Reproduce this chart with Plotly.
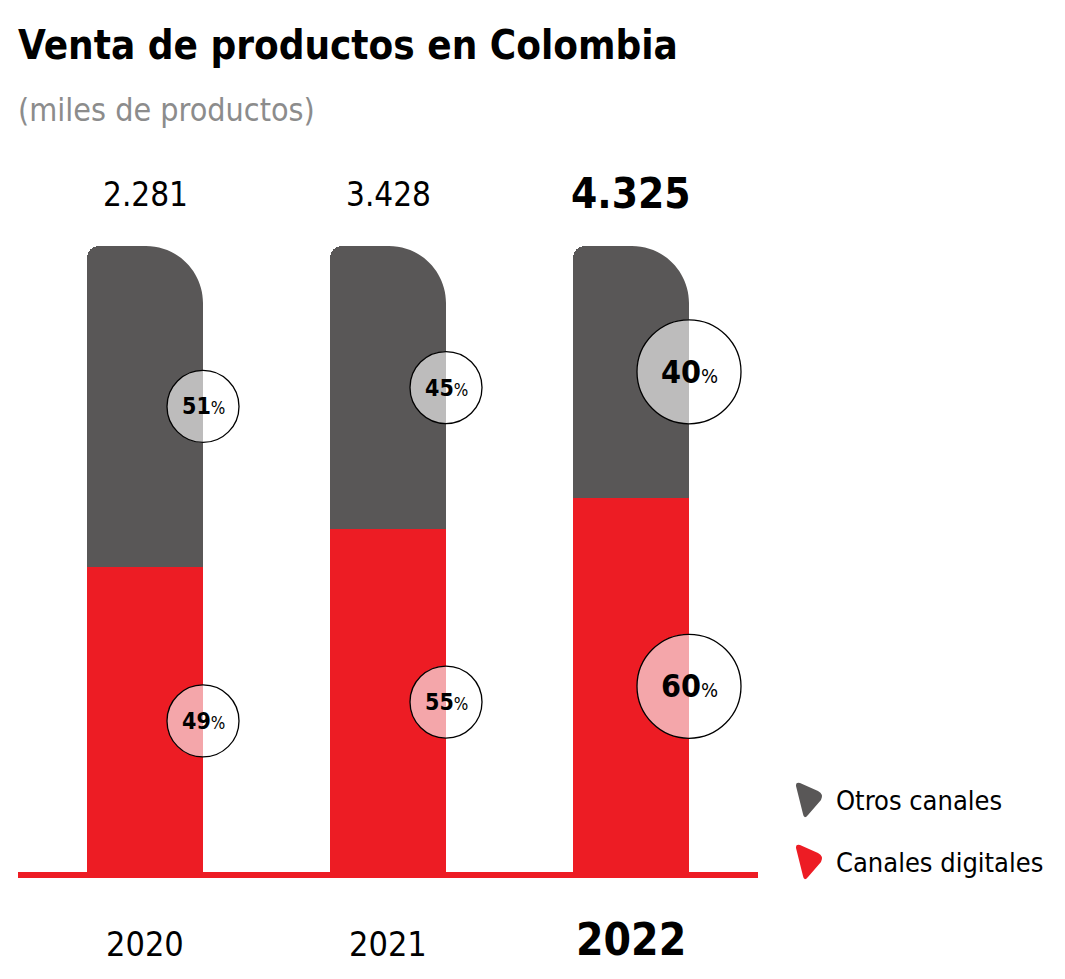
import plotly.graph_objects as go

# ---------------- data ----------------
years = ["2020", "2021", "2022"]
totals = ["2.281", "3.428", "4.325"]
pct_digital = [49, 55, 60]
pct_otros = [51, 45, 40]
series_names = ["Otros canales", "Canales digitales"]
title = "Venta de productos en Colombia"
subtitle = "(miles de productos)"

# ---------------- style ----------------
OFF = 8                      # page body margin
W, H = 1065 - 2 * OFF, 979 - 2 * OFF
FONT = ("Liberation Sans Narrow, DejaVu Sans Condensed, sans-serif")
RED = "#ed1c24"
DARK = "#595757"
LIGHT = "#bdbcbc"
PINK = "#f4a6aa"
emph = [False, False, True]
circle_r = [36, 36, 52]

BAR_W = 0.4774
PX_X = 243.0      # pixels per x unit
PX_Y = 6.29       # pixels per y unit (percent)
X0PX = 145.0 - OFF
Y0PX = 875.0 - OFF
xr = [-X0PX / PX_X, (W - X0PX) / PX_X]
yr = [-(H - Y0PX) / PX_Y, Y0PX / PX_Y]


def py(p):
    return 1 - (p - OFF) / H


def pxx(p):
    return (p - OFF) / W


x = list(range(len(years)))

fig = go.Figure()
fig.add_bar(x=x, y=pct_digital, width=BAR_W, name=series_names[1],
            marker=dict(color=RED, line=dict(width=0)), showlegend=False,
            hoverinfo="skip")
fig.add_bar(x=x, y=pct_otros, width=BAR_W, name=series_names[0],
            marker=dict(color=DARK, line=dict(width=0), cornerradius=12),
            showlegend=False, hoverinfo="skip")

shapes = []
K = 0.5523
R = 57
for i in x:
    top = pct_digital[i] + pct_otros[i]
    path = (f"M {-R},2 L 2,2 L 2,{-R} L 0,{-R} "
            f"C 0,{-R + K*R:.2f} {-R + K*R:.2f},0 {-R},0 Z")
    shapes.append(dict(type="path", xref="x", yref="y", xsizemode="pixel",
                       ysizemode="pixel", xanchor=i + BAR_W / 2, yanchor=top,
                       path=path, fillcolor="white", line=dict(width=0),
                       layer="above"))

annotations = []
for i in x:
    r = circle_r[i]
    cx = i + BAR_W / 2
    segs = [(pct_digital[i] / 2, pct_digital[i], PINK),
            (pct_digital[i] + pct_otros[i] / 2, pct_otros[i], LIGHT)]
    for cy, val, col in segs:
        shapes.append(dict(type="circle", xref="x", yref="y", xsizemode="pixel",
                           ysizemode="pixel", xanchor=cx, yanchor=cy,
                           x0=-r, x1=r, y0=-r, y1=r, fillcolor="white",
                           line=dict(width=0), layer="above"))
        half = (f"M 0,{r} C {-K*r:.2f},{r} {-r},{K*r:.2f} {-r},0 "
                f"C {-r},{-K*r:.2f} {-K*r:.2f},{-r} 0,{-r} Z")
        shapes.append(dict(type="path", xref="x", yref="y", xsizemode="pixel",
                           ysizemode="pixel", xanchor=cx, yanchor=cy,
                           path=half, fillcolor=col, line=dict(width=0),
                           layer="above"))
        shapes.append(dict(type="circle", xref="x", yref="y", xsizemode="pixel",
                           ysizemode="pixel", xanchor=cx, yanchor=cy,
                           x0=-r, x1=r, y0=-r, y1=r, fillcolor="rgba(0,0,0,0)",
                           line=dict(width=1.3, color="black"), layer="above"))
        big = 32 if emph[i] else 23
        small = 20 if emph[i] else 17
        annotations.append(dict(
            x=cx, y=cy, xref="x", yref="y", showarrow=False,
            text=f"<b>{val}</b><span style='font-size:{small}px'>%</span>",
            font=dict(family=FONT, size=big, color="black"),
            xanchor="center", yanchor="middle"))
    # totals
    annotations.append(dict(
        x=i, y=py(193 if emph[i] else 195), xref="x", yref="paper",
        showarrow=False,
        text=f"<b>{totals[i]}</b>" if emph[i] else totals[i],
        font=dict(family=FONT, size=42 if emph[i] else 33, color="black"),
        xanchor="center", yanchor="middle"))
    # years
    annotations.append(dict(
        x=i, y=py(939 if emph[i] else 944), xref="x", yref="paper",
        showarrow=False,
        text=f"<b>{years[i]}</b>" if emph[i] else years[i],
        font=dict(family=FONT, size=44 if emph[i] else 34, color="black"),
        xanchor="center", yanchor="middle"))

# baseline
shapes.append(dict(type="line", xref="paper", yref="y", x0=pxx(18), x1=pxx(758),
                   y0=0, y1=0, line=dict(color=RED, width=6), layer="above"))

# title & subtitle
annotations.append(dict(x=pxx(16), y=py(45), xref="paper", yref="paper",
                        showarrow=False, text=f"<b>{title}</b>",
                        font=dict(family=FONT, size=40, color="black"),
                        xanchor="left", yanchor="middle"))
annotations.append(dict(x=pxx(16), y=py(110), xref="paper", yref="paper",
                        showarrow=False, text=subtitle,
                        font=dict(family=FONT, size=32, color="#8c8c8c"),
                        xanchor="left", yanchor="middle"))

# legend (custom)
leg_cols = [DARK, RED]
leg_y = [800, 862]
pick = ("M 0,-3 Q 0,0 4,-1 L 22,-9 Q 28,-12 25,-18 "
        "L 12,-33 Q 8,-38 7,-32 L 0,-4 Z")
for name, col, ly in zip(series_names, leg_cols, leg_y):
    shapes.append(dict(type="path", xref="paper", yref="paper",
                       xsizemode="pixel", ysizemode="pixel",
                       xanchor=pxx(796), yanchor=py(ly - 18), path=pick,
                       fillcolor=col, line=dict(width=0), layer="above"))
    annotations.append(dict(x=pxx(834), y=py(ly), xref="paper", yref="paper",
                            showarrow=False, text=name,
                            font=dict(family=FONT, size=27, color="black"),
                            xanchor="left", yanchor="middle"))

fig.update_layout(
    width=W, height=H, barmode="stack", bargap=0,
    margin=dict(l=0, r=0, t=0, b=0),
    paper_bgcolor="white", plot_bgcolor="white",
    xaxis=dict(range=xr, visible=False, fixedrange=True),
    yaxis=dict(range=yr, visible=False, fixedrange=True),
    shapes=shapes, annotations=annotations,
    font=dict(family=FONT),
)

fig.write_html("out.html")
